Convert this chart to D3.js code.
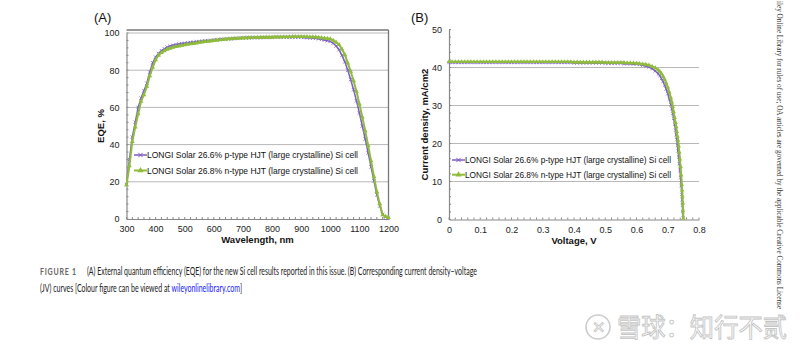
<!DOCTYPE html>
<html><head><meta charset="utf-8">
<script src="https://cdn.jsdelivr.net/npm/d3@7"></script>
<style>body{margin:0;background:#fff}svg{display:block}</style>
</head><body>
<svg id="c" width="800" height="355"></svg>
<script>
// ---------- DATA ----------
const eqeWavelength = [300,310,320,330,340,350,360,370,380,390,400,410,420,430,440,450,460,470,480,490,500,510,520,530,540,550,560,570,580,590,600,610,620,630,640,650,660,670,680,690,700,710,720,730,740,750,760,770,780,790,800,810,820,830,840,850,860,870,880,890,900,910,920,930,940,950,960,970,980,990,1000,1010,1020,1030,1040,1050,1060,1070,1080,1090,1100,1110,1120,1130,1140,1150,1160,1170,1180,1190,1200];
const eqeP = [18.5,32,44,52,60,65,69,73,79,84,87,89,90.5,91.5,92.4,93,93.4,93.8,94.1,94.3,94.5,94.7,94.9,95.1,95.3,95.4,95.6,95.8,95.9,96.0,96.2,96.3,96.5,96.6,96.7,96.8,96.9,97.0,97.1,97.2,97.3,97.3,97.4,97.4,97.5,97.5,97.5,97.6,97.6,97.6,97.6,97.7,97.7,97.7,97.7,97.7,97.7,97.7,97.7,97.7,97.7,97.6,97.5,97.4,97.3,97.2,96.9,96.6,96.2,95.9,95.5,94.5,93,91,88,84.5,80,75,69.5,63.5,57,50,43,35.5,28,20.5,13,7,2.5,1,0.5];
const eqeN = [18.3,28.5,41.6,49.4,56.5,63.2,66.8,71.3,77,81.5,85.6,88.0,89.4,90.4,91.2,91.8,92.3,92.7,93.0,93.3,93.6,93.9,94.1,94.3,94.6,94.9,95.1,95.3,95.5,95.7,95.9,96.1,96.3,96.4,96.6,96.8,96.9,97.0,97.1,97.2,97.3,97.4,97.4,97.5,97.5,97.6,97.6,97.6,97.7,97.7,97.7,97.8,97.8,97.8,97.9,97.9,97.9,98.0,98.0,98.0,98.0,98.0,98.0,97.9,97.9,97.8,97.6,97.4,97.2,97.0,96.8,96.0,95.0,93.7,91.4,88.3,83.8,79.4,74.3,68.6,61.8,54.8,47.4,39.5,31.2,22.8,14.7,8.1,2.2,1.3,0.7];

const jvVoltageP = [0,0.01,0.02,0.03,0.04,0.05,0.06,0.07,0.08,0.09,0.10,0.11,0.12,0.13,0.14,0.15,0.16,0.17,0.18,0.19,0.20,0.21,0.22,0.23,0.24,0.25,0.26,0.27,0.28,0.29,0.30,0.31,0.32,0.33,0.34,0.35,0.36,0.37,0.38,0.39,0.40,0.41,0.42,0.43,0.44,0.45,0.46,0.47,0.48,0.49,0.50,0.51,0.52,0.53,0.54,0.55,0.56,0.57,0.58,0.59,0.60,0.61,0.62,0.63,0.64,0.65,0.66,0.67,0.675,0.68,0.685,0.69,0.695,0.70,0.705,0.71,0.713,0.716,0.719,0.722,0.725,0.727,0.729,0.731,0.733,0.735,0.737,0.739,0.741,0.743,0.745,0.746,0.747,0.748,0.749];
const jvCurrentP = [41.3,41.3,41.3,41.3,41.3,41.3,41.3,41.3,41.3,41.3,41.3,41.3,41.3,41.3,41.3,41.3,41.3,41.3,41.3,41.3,41.3,41.3,41.3,41.3,41.3,41.3,41.3,41.3,41.3,41.3,41.3,41.3,41.3,41.3,41.3,41.3,41.3,41.3,41.3,41.3,41.2,41.2,41.2,41.2,41.2,41.2,41.2,41.2,41.2,41.2,41.1,41.1,41.1,41.1,41.1,41.1,41.0,41.0,41.0,40.9,40.9,40.8,40.6,40.4,40.1,39.7,39.1,38.3,37.8,37.1,36.3,35.4,34.3,33.1,31.7,30.2,29.1,27.9,26.6,25.1,23.5,22.3,21.0,19.5,18.0,16.4,14.7,12.9,11.0,8.9,6.6,5.2,3.7,2.1,0.4];
const jvVoltageN = [0,0.01,0.02,0.03,0.04,0.05,0.06,0.07,0.08,0.09,0.10,0.11,0.12,0.13,0.14,0.15,0.16,0.17,0.18,0.19,0.20,0.21,0.22,0.23,0.24,0.25,0.26,0.27,0.28,0.29,0.30,0.31,0.32,0.33,0.34,0.35,0.36,0.37,0.38,0.39,0.40,0.41,0.42,0.43,0.44,0.45,0.46,0.47,0.48,0.49,0.50,0.51,0.52,0.53,0.54,0.55,0.56,0.57,0.58,0.59,0.60,0.61,0.62,0.63,0.64,0.65,0.66,0.67,0.675,0.68,0.685,0.69,0.695,0.70,0.705,0.71,0.713,0.716,0.719,0.722,0.725,0.727,0.729,0.731,0.733,0.735,0.737,0.739,0.741,0.743,0.745,0.746,0.747,0.748,0.749,0.750];
const jvCurrentN = [41.5,41.5,41.5,41.5,41.5,41.5,41.5,41.5,41.5,41.5,41.5,41.5,41.5,41.5,41.5,41.5,41.5,41.5,41.5,41.5,41.5,41.5,41.5,41.5,41.5,41.5,41.5,41.5,41.5,41.5,41.5,41.5,41.5,41.5,41.5,41.5,41.5,41.5,41.5,41.5,41.4,41.4,41.4,41.4,41.4,41.4,41.4,41.4,41.4,41.4,41.3,41.3,41.3,41.3,41.3,41.3,41.3,41.2,41.2,41.2,41.1,41.0,40.9,40.8,40.6,40.3,39.9,39.3,38.9,38.4,37.7,36.9,35.9,34.8,33.5,32.0,30.9,29.7,28.3,26.8,25.5,24.4,23.1,21.9,20.8,19.3,17.7,15.9,13.9,11.7,9.2,7.7,6.1,4.3,2.3,0.3];

const eqeXTicks = [300,400,500,600,700,800,900,1000,1100,1200];
const eqeYTicks = [0,20,40,60,80,100];
const jvXTicks = [0,0.1,0.2,0.3,0.4,0.5,0.6,0.7,0.8];
const jvYTicks = [0,10,20,30,40,50];
const seriesNames = ["LONGI Solar 26.6% p-type HJT (large crystalline) Si cell","LONGI Solar 26.8% n-type HJT (large crystalline) Si cell"];

// ---------- DRAW ----------
const svg = d3.select("#c");
const PURPLE = "#7d5cc6", GREEN = "#8fbc3c";
const FONT = "'Liberation Sans', Arial, sans-serif";

function panel(o){
  const g = svg.append("g");
  const x = d3.scaleLinear().domain(o.xDomain).range([o.left,o.right]);
  const y = d3.scaleLinear().domain(o.yDomain).range([o.bottom,o.top]);
  g.selectAll(".grid").data(o.yTicks.filter(v=>v>o.yDomain[0] && (o.gridTop || v<o.yDomain[1]))).enter()
    .append("line").attr("x1",o.left).attr("x2",o.right)
    .attr("y1",d=>y(d)).attr("y2",d=>y(d)).attr("stroke","#b8b8b8").attr("stroke-width",1);
  if(o.frame){
    g.append("line").attr("x1",o.left).attr("x2",o.right).attr("y1",o.frameTop).attr("y2",o.frameTop).attr("stroke","#777").attr("stroke-width",1.3);
    g.append("line").attr("x1",o.right).attr("x2",o.right).attr("y1",o.frameTop).attr("y2",o.bottom).attr("stroke","#777").attr("stroke-width",1.3);
  }
  const xa = d3.axisBottom(x).tickValues(o.xTicks).tickFormat(o.xFmt).tickSize(0).tickPadding(7);
  const ya = d3.axisLeft(y).tickValues(o.yTicks).tickFormat(d3.format("d")).tickSize(0).tickPadding(7);
  const gx = g.append("g").attr("transform",`translate(0,${o.bottom})`).call(xa);
  const gy = g.append("g").attr("transform",`translate(${o.left},0)`).call(ya);
  [gx,gy].forEach(a=>{a.select(".domain").attr("stroke","#888").attr("stroke-width",1.2);
    a.selectAll("text").attr("font-family",FONT).attr("font-size",9).attr("fill","#222");});
  g.selectAll(".mx").data(d3.range(o.xDomain[0],o.xDomain[1]+1e-9,o.xMinor)).enter().append("line")
    .attr("x1",d=>x(d)).attr("x2",d=>x(d)).attr("y1",o.bottom).attr("y2",o.bottom-2).attr("stroke","#888");
  g.selectAll(".my").data(d3.range(o.yDomain[0],o.yDomain[1]+1e-9,o.yMinor)).enter().append("line")
    .attr("y1",d=>y(d)).attr("y2",d=>y(d)).attr("x1",o.left).attr("x2",o.left+2).attr("stroke","#888");
  g.append("text").attr("x",(o.left+o.right)/2).attr("y",o.bottom+24).attr("text-anchor","middle")
    .attr("font-family",FONT).attr("font-weight","bold").attr("font-size",9.5).attr("fill","#111").text(o.xTitle);
  g.append("text").attr("transform",`translate(${o.yTitleX},${(o.top+o.bottom)/2}) rotate(-90)`).attr("text-anchor","middle")
    .attr("font-family",FONT).attr("font-weight","bold").attr("font-size",9.5).attr("fill","#111").text(o.yTitle);
  g.append("text").attr("x",o.labelX).attr("y",22).attr("font-family",FONT).attr("font-size",13).attr("fill","#111").text(o.label);
  const line = d3.line().x(d=>x(d[0])).y(d=>y(d[1]));
  const sP = o.xp.map((v,i)=>[v,o.yp[i]]), sN = o.xn.map((v,i)=>[v,o.yn[i]]);
  g.append("path").datum(sP).attr("d",line).attr("fill","none").attr("stroke",PURPLE).attr("stroke-width",1.5);
  g.selectAll(".pm").data(sP).enter().append("path").attr("d",d3.symbol().type(d3.symbolX).size(o.msize))
    .attr("transform",d=>`translate(${x(d[0])},${y(d[1])})`).attr("fill","none").attr("stroke",PURPLE).attr("stroke-width",0.8);
  g.append("path").datum(sN).attr("d",line).attr("fill","none").attr("stroke",GREEN).attr("stroke-width",2);
  g.selectAll(".nm").data(sN).enter().append("path").attr("d",d3.symbol().type(d3.symbolTriangle).size(o.msize*1.1))
    .attr("transform",d=>`translate(${x(d[0])},${y(d[1])})`).attr("fill",GREEN);
  seriesNames.forEach((nm,i)=>{
    const ly = o.legY + i*o.legDy, c = i? GREEN : PURPLE;
    g.append("line").attr("x1",o.legX).attr("x2",o.legX+13).attr("y1",ly).attr("y2",ly).attr("stroke",c).attr("stroke-width",i?2:1.5);
    g.append("path").attr("d",d3.symbol().type(i?d3.symbolTriangle:d3.symbolX).size(i?16:14))
      .attr("transform",`translate(${o.legX+6.5},${ly})`).attr("fill",i?c:"none").attr("stroke",i?"none":c);
    g.append("text").attr("x",o.legX+13).attr("y",ly+3.2).attr("font-family",FONT).attr("font-size",8.8).attr("fill","#111")
      .attr("textLength",o.legW).attr("lengthAdjust","spacingAndGlyphs").text(nm);
  });
}

panel({xDomain:[300,1200],yDomain:[0,100],left:126.5,right:388.5,top:33,bottom:219,
  xTicks:eqeXTicks,yTicks:eqeYTicks,xFmt:d3.format("d"),xMinor:20,yMinor:4,gridTop:true,
  frame:true,frameTop:30,xTitle:"Wavelength, nm",yTitle:"EQE, %",yTitleX:104,label:"(A)",labelX:94,
  xp:eqeWavelength,yp:eqeP,xn:eqeWavelength,yn:eqeN,msize:9,legX:134,legY:155,legDy:15.5,legW:211});

panel({xDomain:[0,0.8],yDomain:[0,50],left:449,right:699,top:29.5,bottom:219.5,
  xTicks:jvXTicks,yTicks:jvYTicks,xFmt:d=>d===0?"0":d3.format(".1f")(d),xMinor:0.02,yMinor:2,gridTop:false,
  frame:false,xTitle:"Voltage, V",yTitle:"Current density, mA/cm2",yTitleX:428,label:"(B)",labelX:411,
  xp:jvVoltageP,yp:jvCurrentP,xn:jvVoltageN,yn:jvCurrentN,msize:8,legX:452,legY:160,legDy:14.7,legW:206});

// caption (condensed by horizontal scaling so the boxes are real)
const CF = "Lato, 'Open Sans', sans-serif";
function fitted(x, y, width, build){
  const t = svg.append("text").attr("font-family",CF).attr("font-size",11.5).attr("fill","#222");
  build(t);
  const w = t.node().getComputedTextLength();
  t.attr("transform",`translate(${x},${y}) scale(${width/w},1)`);
  return t;
}
fitted(40,275,37,t=>t.attr("font-size",9).attr("font-weight","bold").attr("fill","#666").attr("letter-spacing",1).text("FIGURE 1"));
fitted(87,275,390,t=>t.text("(A) External quantum efficiency (EQE) for the new Si cell results reported in this issue. (B) Corresponding current density–voltage"));
fitted(40,292,202,t=>{
  t.append("tspan").text("(JV) curves [Colour figure can be viewed at ");
  t.append("tspan").attr("fill","#1a1aff").text("wileyonlinelibrary.com");
  t.append("tspan").text("]");
});

// side note
svg.append("text").attr("transform","translate(777,0) rotate(90)").attr("x",1).attr("y",0)
  .attr("font-family","'Liberation Serif', serif").attr("font-size",8.5).attr("fill","#333")
  .attr("textLength",308).attr("lengthAdjust","spacingAndGlyphs")
  .text("iley Online Library for rules of use; OA articles are governed by the applicable Creative Commons License");

// watermark
const wm = svg.append("g");
wm.append("circle").attr("cx",598).attr("cy",327).attr("r",12).attr("fill","none").attr("stroke","#ccc").attr("stroke-width",1.6);
wm.append("text").attr("x",598).attr("y",333).attr("text-anchor","middle").attr("font-family","'Liberation Sans', sans-serif")
  .attr("font-size",16).attr("fill","#fff").attr("stroke","#c8c8c8").attr("stroke-width",0.9).text("✕");
wm.append("text").attr("x",617).attr("y",337).attr("font-family","'Noto Sans CJK SC', sans-serif").attr("font-size",26)
  .attr("fill","#fff").attr("stroke","#c4c4c4").attr("stroke-width",0.9).attr("textLength",170).attr("lengthAdjust","spacingAndGlyphs")
  .text("雪球：知行不贰");
</script>
</body></html>
